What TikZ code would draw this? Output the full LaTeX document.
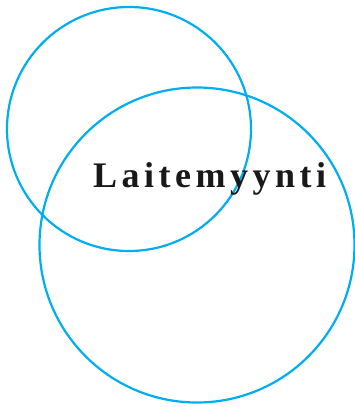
\documentclass[tikz,border=0pt]{standalone}
\usepackage{fontspec}
\usepackage{tikz}
\usepackage{xcolor}
\newfontfamily\labelfont[LetterSpace=12.5]{Liberation Serif}
\definecolor{ringCyan}{RGB}{0,174,239}

\begin{document}
\begin{tikzpicture}[x=1pt, y=-1pt]
% Define styles
\tikzstyle{ring}=[circle, draw=ringCyan, line width=2.2pt, inner sep=0pt]
\tikzstyle{title}=[anchor=base west, inner sep=0pt, text=black!90, font=\labelfont\bfseries\fontsize{36}{40}\selectfont]

% Fix the margins
\useasboundingbox (0,0) rectangle (355,407);

% Draw the two rings
\node[ring, minimum size=244pt] (smallRing) at (129,129) {};
\node[ring, minimum size=315pt] (bigRing) at (197,245) {};

% Draw the label
\node[title] (label) at (93,187) {Laitemyynti};
\end{tikzpicture}
\end{document}
